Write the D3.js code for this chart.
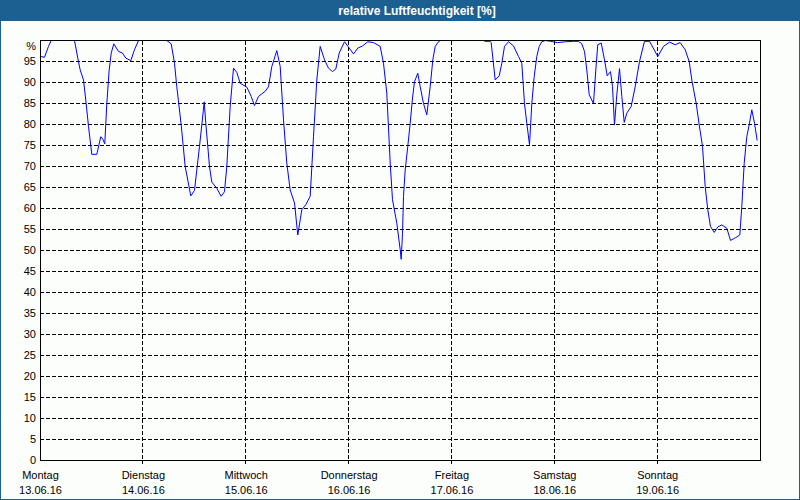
<!DOCTYPE html>
<html><head><meta charset="utf-8">
<script src="https://cdn.jsdelivr.net/npm/d3@7"></script>
<style>
html,body{margin:0;padding:0;background:#fff;}
svg{display:block;}
text{font-family:"Liberation Sans",Arial,sans-serif;}
</style></head><body>
<svg id="chart" width="800" height="500"></svg>
<script>
const title = "relative Luftfeuchtigkeit [%]";
const dayNames = ["Montag","Dienstag","Mittwoch","Donnerstag","Freitag","Samstag","Sonntag"];
const dayDates = ["13.06.16","14.06.16","15.06.16","16.06.16","17.06.16","18.06.16","19.06.16"];
const yTicks = [0,5,10,15,20,25,30,35,40,45,50,55,60,65,70,75,80,85,90,95];
const yTopLabel = "%";
// hours since Monday 13.06.16 00:00
const hours = [0,0.93,1.87,2.5,7.93,8.7,9.26,10.03,10.66,11.2,
11.97,13.14,14.07,14.54,15.0,15.47,16.03,16.5,17.1,18.2,
19.13,19.9,21.07,21.93,22.87,29.47,30.5,31.27,31.8,32.83,
33.76,35.07,35.93,37.1,37.64,38.2,38.57,39.43,39.97,41.14,
42.16,42.93,43.47,44.26,45.03,45.8,46.6,48.14,49.16,49.93,
50.87,52.43,53.2,53.97,55.14,55.93,56.7,57.47,58.26,59.27,
60.03,60.97,61.9,62.93,63.7,64.47,65.26,66.27,67.2,68.13,
68.9,69.7,70.93,72.03,73.03,74.04,75.13,76.37,77.7,79.26,
80.03,80.8,81.6,82.13,83.14,83.93,84.16,84.47,84.7,85.1,
85.7,86.26,86.8,87.27,88.03,88.6,89.37,90.14,90.93,91.54,
92.1,92.87,93.3,103.4,103.76,104.93,105.16,106.1,107.03,107.64,
108.27,109.2,110.37,111.53,112.3,112.93,113.47,114.1,114.64,115.2,
115.8,116.37,116.97,117.8,119.0,120.63,122.5,124.37,125.53,126.3,
126.93,127.47,128.03,129.03,129.57,130.03,130.83,131.6,132.23,133.0,
133.47,133.93,134.47,135.1,135.64,136.2,136.8,137.83,138.76,139.77,
140.93,142.1,144.04,145.37,146.77,148.1,149.26,150.43,151.36,151.97,
153.0,153.7,154.47,155.1,155.7,156.33,157.2,158.04,158.97,160.14,
161.0,162.1,163.17,163.64,164.2,164.8,165.43,165.97,166.6,167.23];
const humidity = [96.2,96.0,98.6,100,100,95.8,93,90.6,85,79.5,
72.9,72.9,77.1,76.5,75.4,85,93,97,99.2,97.4,
97,95.8,95.2,97.8,100,100,99.2,94.6,89,79.9,
70,63,64.3,74.8,79.9,85.4,80.3,70,66.3,64.8,
62.9,64,70,84.3,93.4,92.4,89.8,88.9,86.7,84.5,
86.7,87.9,89,93.8,97.6,93.8,81.1,70.8,64.4,61.3,
53.7,59.7,60.9,62.9,77.1,90.6,98.6,95.4,93.4,92.6,
93.2,97,99.7,98.2,96.8,98.2,98.7,99.7,99.5,98.6,
94.6,87.5,70.8,62.1,56.5,50.2,47.9,54.1,62.9,69.2,
74.8,80.3,86.3,90.2,92.2,89,85,82.3,89,95.4,
98.6,99.7,100,100,99.8,99.8,99.5,90.6,91.6,94.6,
98.6,99.7,98.7,96.2,94.6,85,80.3,75.2,85,91.4,
96.2,98.6,99.7,100,99.8,99.5,99.7,99.8,99.8,99.2,
97.4,93,87.1,85,93,99,99.4,95.4,91.6,92.6,
89,79.9,87.1,93.3,86.7,80.5,82.7,84.3,89,95,
99.8,99.8,96.2,98.6,99.6,99,99.5,97.8,95,90.6,
85,79.9,74.8,65.2,59.7,55.7,54.3,55.6,56.1,55.3,
52.4,53,53.7,60.5,70.8,77.1,80.3,83.5,80.3,76.2];

const W = 800, H = 500;
const blue = "#1c6092";
const svg = d3.select("#chart");
const L = 40, R = 760, T = 40, B = 460;

svg.append("rect").attr("x",0).attr("y",0).attr("width",W).attr("height",H).attr("fill","#fcfefc");
svg.append("rect").attr("x",0).attr("y",0).attr("width",W).attr("height",21).attr("fill",blue);
svg.append("rect").attr("x",0.5).attr("y",0.5).attr("width",W-1).attr("height",H-1)
  .attr("fill","none").attr("stroke",blue).attr("shape-rendering","crispEdges");
svg.append("text").attr("x",417).attr("y",14.5).attr("text-anchor","middle")
  .attr("fill","#fff").attr("font-weight","bold").attr("font-size","12px").text(title);

const x = d3.scaleLinear().domain([0, dayNames.length*24]).range([L, R]);
const y = d3.scaleLinear().domain([0, 100]).range([B, T]);

// horizontal grid
const gGrid = svg.append("g").attr("transform",`translate(${L},0)`)
  .call(d3.axisLeft(y).tickValues(yTicks.filter(v=>v>0)).tickSize(-(R-L)).tickFormat(""));
gGrid.select(".domain").remove();
gGrid.selectAll(".tick line").attr("stroke","#000").attr("stroke-dasharray","4,2").attr("shape-rendering","crispEdges");

// vertical grid (day boundaries)
const dayStarts = dayNames.map((_,i)=>i*24);
svg.append("g").selectAll("line").data(dayStarts.slice(1)).join("line")
  .attr("x1",d=>Math.floor(x(d))+0.5).attr("x2",d=>Math.floor(x(d))+0.5)
  .attr("y1",T+1).attr("y2",B+4)
  .attr("stroke","#000").attr("stroke-dasharray","4,2").attr("shape-rendering","crispEdges");

// y labels
const gy = svg.append("g").attr("transform",`translate(${L},0)`)
  .call(d3.axisLeft(y).tickValues(yTicks).tickSize(0).tickPadding(4));
gy.select(".domain").remove();
gy.selectAll("text").attr("font-family","Liberation Sans, Arial, sans-serif").attr("font-size","11px").attr("fill","#000");
svg.append("text").attr("x",L-4).attr("y",49.5).attr("text-anchor","end")
  .attr("font-size","11px").attr("fill","#000").text(yTopLabel);

// x labels
const gx = svg.append("g").attr("transform",`translate(0,${B})`)
  .call(d3.axisBottom(x).tickValues(dayStarts).tickSize(0).tickFormat(""));
gx.select(".domain").remove();
gx.selectAll(".tick").each(function(d,i){
  const t = d3.select(this);
  t.append("text").attr("y",19).attr("text-anchor","middle").attr("font-size","11px").attr("fill","#000").text(dayNames[i]);
  t.append("text").attr("y",34).attr("text-anchor","middle").attr("font-size","11px").attr("fill","#000").text(dayDates[i]);
});

// data line
const pts = hours.map((h,i)=>({h, v: humidity[i]}));
svg.append("path").datum(pts)
  .attr("fill","none").attr("stroke","#0000ff").attr("stroke-width",1)
  .attr("d", d3.line().x(d=>x(d.h)+0.5).y(d=>y(d.v)+0.5));

// plot frame
svg.append("rect").attr("x",L+0.5).attr("y",T+0.5).attr("width",R-L).attr("height",B-T)
  .attr("fill","none").attr("stroke","#000").attr("shape-rendering","crispEdges");
</script>
</body></html>
